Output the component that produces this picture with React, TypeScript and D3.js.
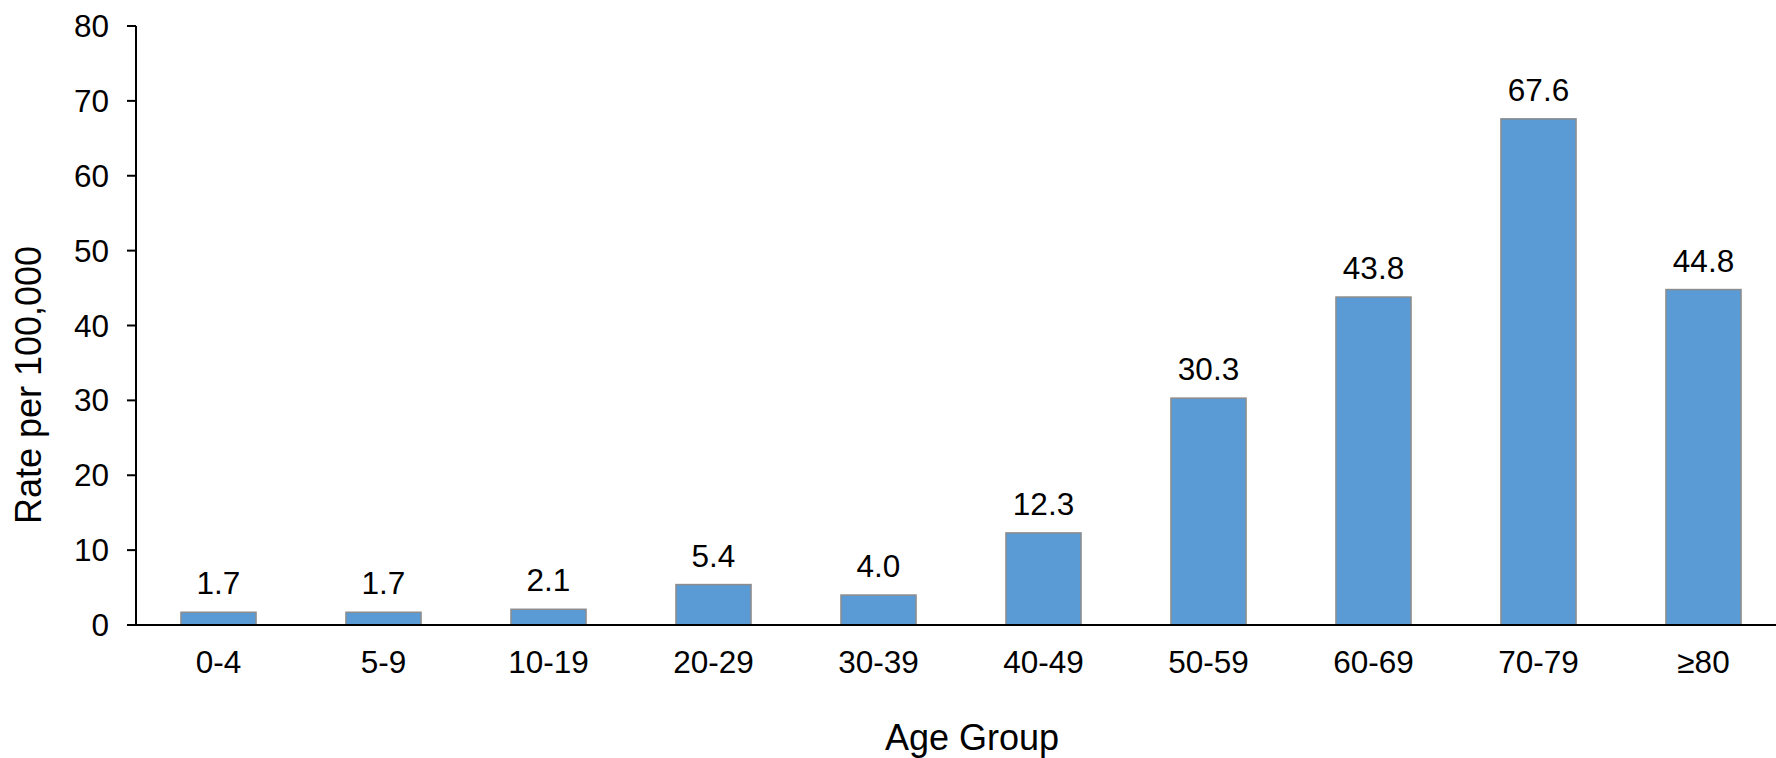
import React from "react";
import * as d3 from "d3";

const ageGroups = ["0-4", "5-9", "10-19", "20-29", "30-39", "40-49", "50-59", "60-69", "70-79", "≥80"];
const rates = [1.7, 1.7, 2.1, 5.4, 4.0, 12.3, 30.3, 43.8, 67.6, 44.8];
const yTicks = [0, 10, 20, 30, 40, 50, 60, 70, 80];

const W = 1776;
const H = 758;
const left = 136;
const right = 1786;
const top = 26;
const bottom = 625;
const font = "Arial, 'Liberation Sans', Helvetica, sans-serif";

export default function App() {
  const x = d3.scaleBand<string>().domain(ageGroups).range([left, right]).paddingInner(0.545).paddingOuter(0.2725);
  const y = d3.scaleLinear().domain([0, 80]).range([bottom, top]);

  return (
    <svg width={W} height={H} style={{ position: "absolute", left: 0, top: 0, background: "#fff" }} fontFamily={font}>
      {rates.map((v, i) => {
        const g = ageGroups[i];
        const bx = x(g)!;
        const bw = x.bandwidth();
        return (
          <g key={g}>
            <rect x={bx} y={y(v)} width={bw} height={bottom - y(v)} fill="#5B9BD5" stroke="#8C8C8C" strokeWidth={1.5} />
            <text x={bx + bw / 2} y={y(v) - 18} textAnchor="middle" fontSize={31.5} fill="#000">
              {v.toFixed(1)}
            </text>
            <text x={bx + bw / 2} y={bottom + 48} textAnchor="middle" fontSize={31.5} fill="#000">
              {g}
            </text>
          </g>
        );
      })}
      {/* y axis */}
      <line x1={left} x2={left} y1={top} y2={bottom} stroke="#000" strokeWidth={2} />
      {yTicks.map((t) => (
        <g key={t}>
          <line x1={left - 9} x2={left} y1={y(t)} y2={y(t)} stroke="#000" strokeWidth={2} />
          <text x={109} y={y(t) + 11} textAnchor="end" fontSize={31.5} fill="#000">
            {t}
          </text>
        </g>
      ))}
      {/* x axis */}
      <line x1={left - 9} x2={right} y1={bottom} y2={bottom} stroke="#000" strokeWidth={2} />
      <text x={972} y={750} textAnchor="middle" fontSize={36} fill="#000">
        Age Group
      </text>
      <text transform={`translate(41, 385) rotate(-90)`} textAnchor="middle" fontSize={36} fill="#000">
        Rate per 100,000
      </text>
    </svg>
  );
}
